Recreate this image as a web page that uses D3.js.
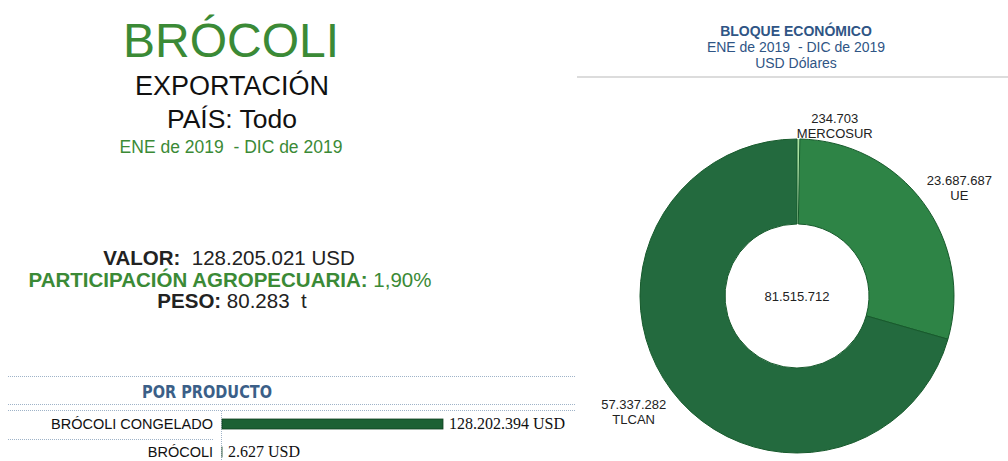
<!DOCTYPE html>
<html>
<head>
<meta charset="utf-8">
<script src="https://cdn.jsdelivr.net/npm/d3@7"></script>
<style>
  html, body { margin: 0; padding: 0; background: #fff; }
  svg { display: block; font-family: "Liberation Sans", Arial, sans-serif; }
  svg text { white-space: pre; }
</style>
</head>
<body>
<svg id="chart" width="1008" height="461"></svg>
<script>
// ---- data ----
const productName = "BRÓCOLI";
const headerLines = ["EXPORTACIÓN", "PAÍS: Todo"];
const periodText = "ENE de 2019  - DIC de 2019";
const valorText = "128.205.021 USD";
const participacionText = "1,90%";
const pesoText = "80.283  t";

const productCategories = ["BRÓCOLI CONGELADO", "BRÓCOLI"];
const productValues = [128202394, 2627];

const blocCategories = ["MERCOSUR", "UE", "TLCAN"];
const blocValues = [234703, 23687687, 57337282];
const blocCenterTotal = "81.515.712";
const blocTitle = ["BLOQUE ECONÓMICO", "ENE de 2019  - DIC de 2019", "USD Dólares"];

// ---- helpers ----
const fmt = v => d3.format(",")(v).replace(/,/g, ".");
const svg = d3.select("#chart");
const GREEN = "#3b8a36";
const BLUE = "#2f5585";

// ---- left header ----
const left = svg.append("g");
left.append("text").attr("x", 231).attr("y", 57).attr("text-anchor", "middle")
  .attr("font-size", 48).attr("fill", GREEN).text(productName);
left.append("text").attr("x", 232).attr("y", 95).attr("text-anchor", "middle")
  .attr("font-size", 27).attr("fill", "#111").text(headerLines[0]);
left.append("text").attr("x", 232).attr("y", 128).attr("text-anchor", "middle")
  .attr("font-size", 26.5).attr("fill", "#111").text(headerLines[1]);
left.append("text").attr("x", 231).attr("y", 153).attr("text-anchor", "middle")
  .attr("font-size", 17.5).attr("fill", GREEN).text(periodText);

// KPIs
const k1 = left.append("text").attr("x", 229).attr("y", 265).attr("text-anchor", "middle")
  .attr("font-size", 20.5).attr("fill", "#222");
k1.append("tspan").attr("font-weight", "bold").text("VALOR:");
k1.append("tspan").text("  " + valorText);
const k2 = left.append("text").attr("x", 230).attr("y", 287).attr("text-anchor", "middle")
  .attr("font-size", 20.5).attr("fill", GREEN);
k2.append("tspan").attr("font-weight", "bold").text("PARTICIPACIÓN AGROPECUARIA:");
k2.append("tspan").text(" " + participacionText);
const k3 = left.append("text").attr("x", 232).attr("y", 308).attr("text-anchor", "middle")
  .attr("font-size", 20.5).attr("fill", "#222");
k3.append("tspan").attr("font-weight", "bold").text("PESO:");
k3.append("tspan").text(" " + pesoText);

// ---- product bar chart ----
const dotted = (g, x1, y1, x2, y2) => g.append("line")
  .attr("x1", x1).attr("y1", y1).attr("x2", x2).attr("y2", y2)
  .attr("stroke", "#9fb3c8").attr("stroke-width", 1).attr("stroke-dasharray", "1,1");

const bars = svg.append("g");
dotted(bars, 8, 376.5, 576, 376.5);
bars.append("text").attr("x", 207).attr("y", 398).attr("text-anchor", "middle")
  .attr("font-family", "'Liberation Sans Narrow', 'DejaVu Sans Condensed', sans-serif")
  .attr("font-weight", "bold").attr("font-size", 18.5).attr("fill", "#3b5f88")
  .attr("textLength", 130).attr("lengthAdjust", "spacingAndGlyphs")
  .text("POR PRODUCTO");
dotted(bars, 8, 404.5, 576, 404.5);
dotted(bars, 8, 410.5, 576, 410.5);

const y = d3.scaleBand().domain(productCategories).range([411, 467]).paddingInner(0.0);
const x = d3.scaleLinear().domain([0, d3.max(productValues)]).range([222, 443]);

productCategories.forEach((c, i) => {
  if (i > 0) dotted(bars, 8, y(c) + 0.5, 214, y(c) + 0.5);
});
dotted(bars, 221.5, 411, 221.5, 461);

bars.selectAll("rect.bar").data(productValues).enter().append("rect")
  .attr("class", "bar")
  .attr("x", x(0))
  .attr("y", (d, i) => y(productCategories[i]) + 8)
  .attr("width", d => Math.max(0, x(d) - x(0)))
  .attr("height", 10)
  .attr("fill", "#1c6134").attr("stroke", "#0f3f1f").attr("stroke-width", 0.8);

bars.selectAll("text.cat").data(productCategories).enter().append("text")
  .attr("class", "cat")
  .attr("x", 213).attr("y", d => y(d) + 18)
  .attr("text-anchor", "end").attr("font-size", 14.5).attr("fill", "#111")
  .text(d => d);

bars.selectAll("text.val").data(productValues).enter().append("text")
  .attr("class", "val")
  .attr("x", d => (d / d3.max(productValues) > 0.02 ? x(d) + 6 : x(0) + 6))
  .attr("y", (d, i) => y(productCategories[i]) + 18)
  .attr("font-family", "'Liberation Serif', 'Times New Roman', serif")
  .attr("font-size", 16).attr("fill", "#111")
  .text(d => fmt(d) + " USD");

// ---- right: donut ----
const right = svg.append("g");
right.append("text").attr("x", 796).attr("y", 36).attr("text-anchor", "middle")
  .attr("font-size", 14).attr("font-weight", "bold").attr("fill", BLUE).text(blocTitle[0]);
right.append("text").attr("x", 796).attr("y", 52).attr("text-anchor", "middle")
  .attr("font-size", 14).attr("fill", BLUE).text(blocTitle[1]);
right.append("text").attr("x", 796).attr("y", 68).attr("text-anchor", "middle")
  .attr("font-size", 14).attr("fill", BLUE).text(blocTitle[2]);
right.append("line").attr("x1", 577).attr("x2", 1008).attr("y1", 77).attr("y2", 77)
  .attr("stroke", "#d0d0d0").attr("stroke-width", 1.5);

const cx = 797, cy = 296, R = 157, r = 72;
const blocColors = d3.scaleOrdinal().domain(blocCategories)
  .range(["#a9e3a0", "#2e8446", "#236a3e"]);
const pie = d3.pie().sort(null).value(d => d.v);
const arcs = pie(blocCategories.map((c, i) => ({ c, v: blocValues[i] })));
const arc = d3.arc().innerRadius(r).outerRadius(R);
const donut = right.append("g").attr("transform", `translate(${cx},${cy})`);
donut.selectAll("path").data(arcs).enter().append("path")
  .attr("d", arc)
  .attr("fill", d => blocColors(d.data.c))
  .attr("stroke", d => d.data.c === "MERCOSUR" ? "#e8f8e4" : "#175a2c")
  .attr("stroke-width", d => d.data.c === "MERCOSUR" ? 0.6 : 1);

donut.append("text").attr("x", 0).attr("y", 5).attr("text-anchor", "middle")
  .attr("font-size", 13).attr("fill", "#222").text(blocCenterTotal);

const labelArc = d3.arc().innerRadius(197).outerRadius(197);
const labelNudge = { MERCOSUR: [36, 26], UE: [4, 8], TLCAN: [-6, -4] };
const lab = donut.selectAll("g.lab").data(arcs).enter().append("g")
  .attr("class", "lab")
  .attr("transform", d => {
    const [px, py] = labelArc.centroid(d);
    const n = labelNudge[d.data.c] || [0, 0];
    return `translate(${px + n[0]},${py + n[1]})`;
  });
lab.append("text").attr("y", -2).attr("text-anchor", "middle")
  .attr("font-size", 13).attr("fill", "#222").text(d => fmt(d.data.v));
lab.append("text").attr("y", 13).attr("text-anchor", "middle")
  .attr("font-size", 13).attr("fill", "#222").text(d => d.data.c);
</script>
</body>
</html>
